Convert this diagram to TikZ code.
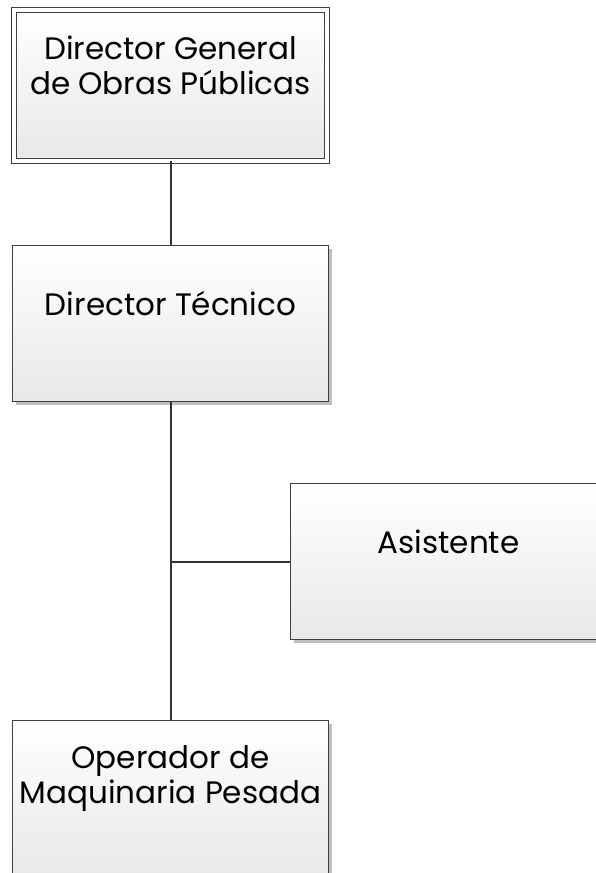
\documentclass[tikz,border=0pt]{standalone}
\usepackage{fontspec}
\setmainfont{Poppins}
\usetikzlibrary{shadows}

\begin{document}
\begin{tikzpicture}[x=1pt, y=-1pt]
	\tikzstyle{caja} = [rectangle, draw=black!75, line width=0.9pt, top color=white, bottom color=black!9, minimum width=316pt, minimum height=156pt, general shadow={fill=black!25, shadow xshift=3pt, shadow yshift=-3pt}]
	\tikzstyle{texto} = [align=center, font=\fontsize{31}{35}\selectfont, text=black]
	\tikzstyle{linea} = [draw=black!80, line width=2pt]
	\useasboundingbox (0,0) rectangle (596,873);
	\clip (0,0) rectangle (596,873);
	\node[caja, double=white, double distance=4.5pt, minimum width=312.7pt, minimum height=150.7pt] (dg) at (170.5, 85.5) {};
	\node[caja] (dt) at (170.5, 323.5) {};
	\node[caja] (asis) at (448.5, 561.5) {};
	\node[caja] (op) at (170.5, 798.5) {};
	\node[texto] (dgtxt) at ([yshift=20pt]dg.center) {Director General\\de Obras Públicas};
	\node[texto] (dttxt) at ([yshift=20pt]dt.center) {Director Técnico};
	\node[texto] (asistxt) at ([yshift=20pt]asis.center) {Asistente};
	\node[texto] (optxt) at ([yshift=20pt]op.center) {Operador de\\Maquinaria Pesada};
	\coordinate (rama) at (dt.south |- asis.west);
	\draw [linea] (dg.south)--(dt.north);
	\draw [linea] (dt.south)--(op.north);
	\draw [linea] (rama)--(asis.west);
\end{tikzpicture}
\end{document}
